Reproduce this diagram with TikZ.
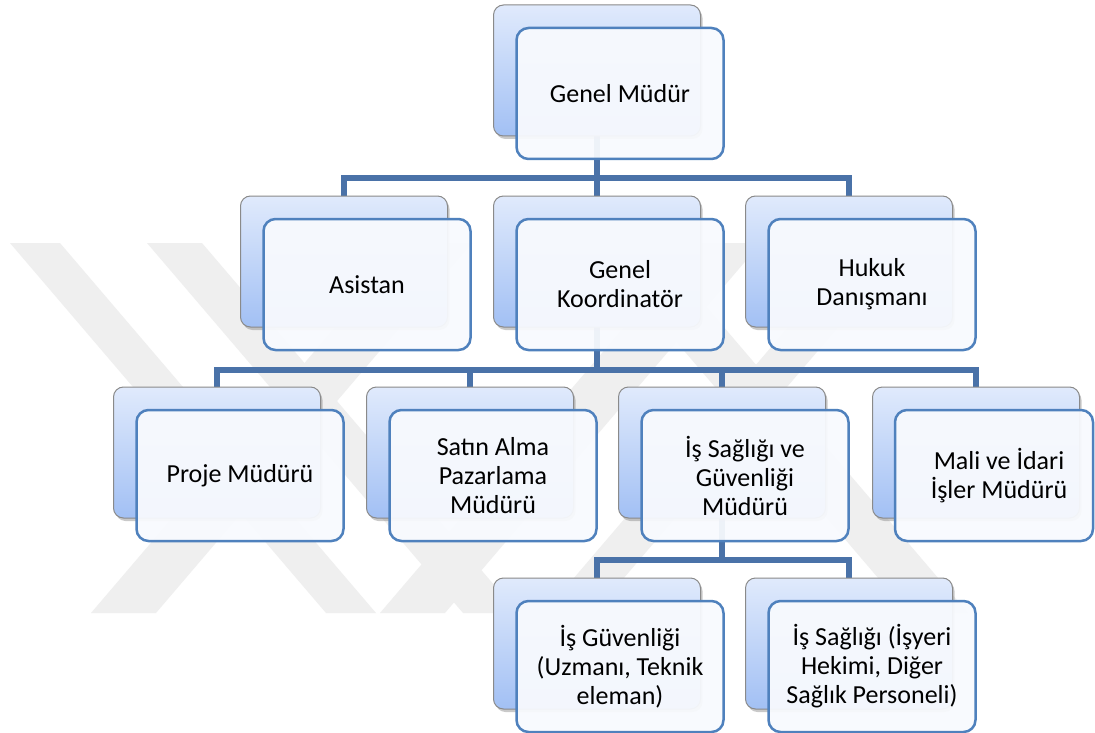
\documentclass[tikz,border=0pt]{standalone}
\usepackage{fontspec}
\setmainfont{Carlito}
\usetikzlibrary{shadows}
\definecolor{conncol}{HTML}{4A72A8}
\definecolor{frontline}{HTML}{4F81BD}
\definecolor{backtop}{HTML}{E0EAFC}
\definecolor{backbot}{HTML}{A2C0F4}
\definecolor{backline}{HTML}{8A8A8A}
\definecolor{frontfill}{HTML}{F8FAFE}
\definecolor{wm}{HTML}{EFEFEF}
\begin{document}
\begin{tikzpicture}[x=1pt,y=-1pt,
  backbox/.style={rectangle, rounded corners=10pt, draw=backline, line width=1pt,
    top color=backtop, bottom color=backbot, minimum width=207pt, minimum height=131pt,
    inner sep=0pt, drop shadow={shadow xshift=2pt, shadow yshift=-3pt, opacity=0.35, fill=black!60}},
  frontbox/.style={rectangle, rounded corners=12pt, draw=frontline, line width=2.5pt,
    fill=frontfill, fill opacity=0.94, text opacity=1, minimum width=207pt, minimum height=131pt,
    inner sep=0pt, font=\fontsize{26}{29}\selectfont, align=center, text=black},
  conn/.style={draw=conncol, line width=5.5pt},
  wmband/.style={fill=wm, draw=none}]
\useasboundingbox (0,0) rectangle (1095,733);
\fill[white] (0,0) rectangle (1095,733);
% watermark (approximate diagonal bands)
\fill[wmband] (10,243) -- (60,243) -- (376,613) -- (326,613) -- cycle;
\fill[wmband] (147,243) -- (202,243) -- (518,613) -- (463,613) -- cycle;
\fill[wmband] (592,243) -- (652,243) -- (968,613) -- (908,613) -- cycle;
\fill[wmband] (407,243) -- (472,243) -- (156,613) -- (91,613) -- cycle;
\fill[wmband] (696,243) -- (761,243) -- (445,613) -- (380,613) -- cycle;
\fill[wmband] (860,243) -- (910,243) -- (594,613) -- (544,613) -- cycle;
% coordinates of bus bars
\coordinate (bar1) at (0,178);
\coordinate (bar2) at (0,370);
\coordinate (bar3) at (0,560);
% back box positions
\path
  (597,70.5)  coordinate (gmP)
  (344,261.5) coordinate (asP)
  (597,261.5) coordinate (gkP)
  (849,261.5) coordinate (hdP)
  (217,452.5) coordinate (pmP)
  (470,452.5) coordinate (saP)
  (722,452.5) coordinate (isgP)
  (976,452.5) coordinate (miP)
  (597,643.5) coordinate (igP)
  (849,643.5) coordinate (isP);
% connectors
\draw[conn] (gmP) -- (gmP |- bar1) -| (asP);
\draw[conn] (gmP) -- (gkP);
\draw[conn] (gmP |- bar1) -| (hdP);
\draw[conn] (gkP) -- (gkP |- bar2) -| (pmP);
\draw[conn] (gkP |- bar2) -| (saP);
\draw[conn] (gkP |- bar2) -| (isgP);
\draw[conn] (gkP |- bar2) -| (miP);
\draw[conn] (isgP) -- (isgP |- bar3) -| (igP);
\draw[conn] (isgP |- bar3) -| (isP);
% back boxes
\foreach \p in {gmP,asP,gkP,hdP,pmP,saP,isgP,miP,igP,isP}
  \node[backbox] (\p b) at (\p) {};
% front boxes
\node[frontbox] (gm) at ([shift={(23,23)}]gmP) {Genel Müdür};
\node[frontbox] (as) at ([shift={(23,23)}]asP) {Asistan};
\node[frontbox] (gk) at ([shift={(23,23)}]gkP) {Genel\\Koordinatör};
\node[frontbox] (hd) at ([shift={(23,23)}]hdP) {Hukuk\\Danışmanı};
\node[frontbox] (pm) at ([shift={(23,23)}]pmP) {Proje Müdürü};
\node[frontbox] (sa) at ([shift={(23,23)}]saP) {Satın Alma\\Pazarlama\\Müdürü};
\node[frontbox] (isg) at ([shift={(23,23)}]isgP) {İş Sağlığı ve\\Güvenliği\\Müdürü};
\node[frontbox, minimum width=198pt] (mi) at ([shift={(18,23)}]miP) {\hspace*{10pt}Mali ve İdari\\\hspace*{10pt}İşler Müdürü};
\node[frontbox] (ig) at ([shift={(23,23)}]igP) {İş Güvenliği\\(Uzmanı, Teknik\\eleman)};
\node[frontbox] (is) at ([shift={(23,23)}]isP) {İş Sağlığı (İşyeri\\Hekimi, Diğer\\Sağlık Personeli)};
\end{tikzpicture}
\end{document}
